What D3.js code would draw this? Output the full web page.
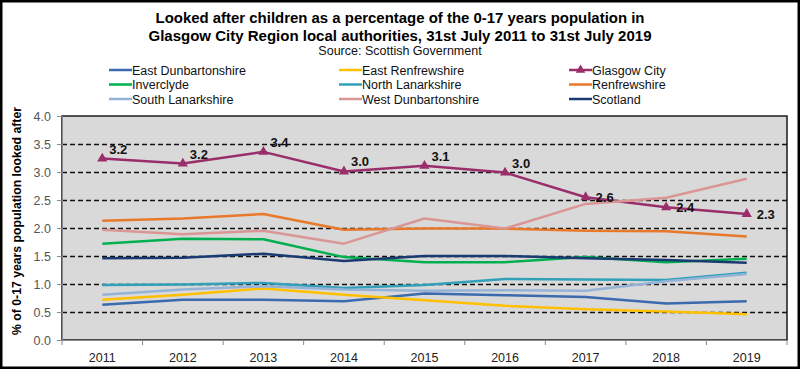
<!DOCTYPE html>
<html>
<head>
<meta charset="utf-8">
<script src="https://cdn.jsdelivr.net/npm/d3@7"></script>
<style>
  body { margin: 0; background: #fff; }
  svg { display: block; font-family: "Liberation Sans", Arial, sans-serif; }
</style>
</head>
<body>
<svg id="chart" width="800" height="369"></svg>
<script>
// data
var years = ["2011", "2012", "2013", "2014", "2015", "2016", "2017", "2018", "2019"];

var eastDunbartonshire = [0.63, 0.72, 0.72, 0.69, 0.83, 0.80, 0.77, 0.65, 0.69];
var eastRenfrewshire   = [0.72, 0.81, 0.92, 0.81, 0.71, 0.61, 0.55, 0.51, 0.46];
var glasgowCity        = [3.24, 3.15, 3.36, 3.01, 3.11, 2.99, 2.55, 2.37, 2.25];
var inverclyde         = [1.72, 1.81, 1.80, 1.48, 1.39, 1.39, 1.48, 1.39, 1.45];
var northLanarkshire   = [0.98, 0.99, 1.02, 0.93, 0.98, 1.09, 1.08, 1.07, 1.20];
var renfrewshire       = [2.13, 2.17, 2.25, 1.97, 1.99, 1.99, 1.95, 1.94, 1.85];
var southLanarkshire   = [0.81, 0.90, 0.96, 0.90, 0.88, 0.89, 0.88, 1.05, 1.18];
var westDunbartonshire = [1.97, 1.89, 1.95, 1.72, 2.17, 1.99, 2.43, 2.54, 2.88];
var scotland           = [1.46, 1.47, 1.54, 1.41, 1.50, 1.50, 1.46, 1.43, 1.38];

var glasgowLabels = ["3.2", "3.2", "3.4", "3.0", "3.1", "3.0", "2.6", "2.4", "2.3"];
var yTicks = [0, 0.5, 1, 1.5, 2, 2.5, 3, 3.5, 4];

var series = [
  {name: "East Dunbartonshire", values: eastDunbartonshire, color: "#3B6AAE"},
  {name: "East Renfrewshire", values: eastRenfrewshire, color: "#FFC000"},
  {name: "Glasgow City", values: glasgowCity, color: "#992E6B", marker: true},
  {name: "Inverclyde", values: inverclyde, color: "#00B050"},
  {name: "North Lanarkshire", values: northLanarkshire, color: "#31A0B8"},
  {name: "Renfrewshire", values: renfrewshire, color: "#E8792A"},
  {name: "South Lanarkshire", values: southLanarkshire, color: "#95B3D7"},
  {name: "West Dunbartonshire", values: westDunbartonshire, color: "#D99694"},
  {name: "Scotland", values: scotland, color: "#1A3A72"}
];

var svg = d3.select("#chart"),
    WIDTH = 800,
    HEIGHT = 369,
    PLOT = {left: 62, right: 787, top: 116, bottom: 340};

// outer frame
svg.append("rect")
  .attr("x", 1.25).attr("y", 1.25)
  .attr("width", WIDTH - 2.5).attr("height", HEIGHT - 2.5)
  .attr("fill", "#fff").attr("stroke", "#000").attr("stroke-width", 2.5);

// titles
svg.append("text").attr("x", 400).attr("y", 23).attr("text-anchor", "middle")
  .attr("font-size", 15).attr("font-weight", "bold")
  .attr("textLength", 489).attr("lengthAdjust", "spacingAndGlyphs")
  .text("Looked after children as a percentage of the 0-17 years population in");
svg.append("text").attr("x", 400).attr("y", 40.5).attr("text-anchor", "middle")
  .attr("font-size", 15).attr("font-weight", "bold")
  .attr("textLength", 503).attr("lengthAdjust", "spacingAndGlyphs")
  .text("Glasgow City Region local authorities, 31st July 2011 to 31st July 2019");
svg.append("text").attr("x", 400).attr("y", 55).attr("text-anchor", "middle")
  .attr("font-size", 12.5).attr("fill", "#111")
  .text("Source: Scottish Government");

// legend, 3 columns
var legendX = [109, 339, 569], legendY = [70, 84.5, 99];
var leg = svg.append("g").selectAll("g").data(series).enter().append("g")
  .attr("transform", function(d, i) {
    return "translate(" + legendX[i % 3] + "," + legendY[Math.floor(i / 3)] + ")";
  });
leg.append("line").attr("x1", 0).attr("x2", 23).attr("y1", 0).attr("y2", 0)
  .attr("stroke", function(d) { return d.color; }).attr("stroke-width", 2.5);
leg.filter(function(d) { return d.marker; }).append("path")
  .attr("d", d3.symbol(d3.symbolTriangle, 40)())
  .attr("transform", "translate(11.5,0)")
  .attr("fill", function(d) { return d.color; });
leg.append("text").attr("x", 23).attr("y", 4.5)
  .attr("font-size", 12.5).attr("fill", "#111")
  .text(function(d) { return d.name; });

// scales
var xScale = d3.scaleBand().domain(years).range([PLOT.left, PLOT.right]);
var yScale = d3.scaleLinear().domain([0, 4]).range([PLOT.bottom, PLOT.top]);
var xMid = function(i) { return xScale(years[i]) + xScale.bandwidth() / 2; };

// plot area
svg.append("rect")
  .attr("x", PLOT.left).attr("y", PLOT.top)
  .attr("width", PLOT.right - PLOT.left).attr("height", PLOT.bottom - PLOT.top)
  .attr("fill", "#D9D9D9").attr("stroke", "#1a1a1a").attr("stroke-width", 1.5);

// dashed gridlines
svg.append("g").selectAll("line")
  .data(yTicks.filter(function(t) { return t > 0 && t < 4; }))
  .enter().append("line")
  .attr("x1", PLOT.left).attr("x2", PLOT.right)
  .attr("y1", function(d) { return Math.round(yScale(d)) + 0.5; })
  .attr("y2", function(d) { return Math.round(yScale(d)) + 0.5; })
  .attr("stroke", "#111").attr("stroke-width", 1.6).attr("stroke-dasharray", "5,3");

// axes
var yAxis = d3.axisLeft(yScale).tickValues(yTicks).tickFormat(d3.format(".1f"))
  .tickSize(5).tickPadding(6);
var gy = svg.append("g").attr("transform", "translate(" + PLOT.left + ",0)").call(yAxis);
gy.select(".domain").attr("stroke", "#888");
gy.selectAll(".tick line").attr("stroke", "#888");
gy.selectAll(".tick text").attr("font-size", 12.5).attr("fill", "#555")
  .attr("font-family", "Liberation Sans, Arial, sans-serif");

var xAxis = d3.axisBottom(xScale).tickSize(0).tickPadding(13);
var gx = svg.append("g").attr("transform", "translate(0," + PLOT.bottom + ")").call(xAxis);
gx.select(".domain").attr("stroke", "#888");
gx.selectAll(".tick text").attr("font-size", 12.5).attr("fill", "#222")
  .attr("font-family", "Liberation Sans, Arial, sans-serif");
// tick marks between categories
gx.append("g").selectAll("line")
  .data(years.concat(["end"]))
  .enter().append("line")
  .attr("x1", function(d, i) { return PLOT.left + i * xScale.bandwidth(); })
  .attr("x2", function(d, i) { return PLOT.left + i * xScale.bandwidth(); })
  .attr("y1", 0).attr("y2", 5)
  .attr("stroke", "#888");

// y axis title
svg.append("text")
  .attr("transform", "translate(21," + 221 + ") rotate(-90)")
  .attr("text-anchor", "middle").attr("font-size", 12).attr("font-weight", "bold")
  .attr("textLength", 228).attr("lengthAdjust", "spacingAndGlyphs")
  .text("% of 0-17 years population looked after");

// lines
var line = d3.line()
  .x(function(d, i) { return xMid(i); })
  .y(function(d) { return yScale(d); });

svg.append("g").selectAll("path").data(series).enter().append("path")
  .attr("d", function(d) { return line(d.values); })
  .attr("fill", "none")
  .attr("stroke", function(d) { return d.color; })
  .attr("stroke-width", 2.5)
  .attr("stroke-linejoin", "round");

// Glasgow markers and labels
var glasgow = series[2];
svg.append("g").selectAll("path").data(glasgow.values).enter().append("path")
  .attr("d", d3.symbol(d3.symbolTriangle, 45)())
  .attr("transform", function(d, i) { return "translate(" + xMid(i) + "," + yScale(d) + ")"; })
  .attr("fill", glasgow.color);

svg.append("g").selectAll("text").data(glasgow.values).enter().append("text")
  .attr("x", function(d, i) { return xMid(i) + (i < 6 ? 7 : 10); })
  .attr("y", function(d, i) { return yScale(d) + (i < 6 ? -5 : 4.5); })
  .attr("font-size", 13).attr("font-weight", "bold").attr("fill", "#111")
  .text(function(d, i) { return glasgowLabels[i]; });
</script>
</body>
</html>
